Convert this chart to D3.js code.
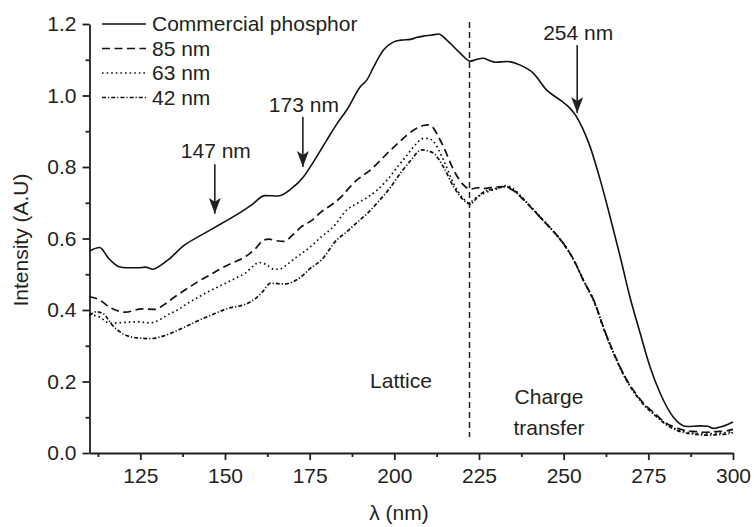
<!DOCTYPE html>
<html>
<head>
<meta charset="utf-8">
<script src="https://cdn.jsdelivr.net/npm/d3@7"></script>
<style>
  body { margin: 0; background: #fff; }
  text { font-family: "Liberation Sans", Arial, sans-serif; fill: #231f20; }
</style>
</head>
<body>
<div id="chart"></div>
<script>
// spectra, [wavelength nm, intensity]
var commercial = [[110,0.565],[113,0.575],[115.6,0.545],[118.5,0.522],[121,0.518],[124.4,0.518],[126.5,0.52],
  [128.8,0.514],[131,0.525],[133.2,0.54],[138.1,0.582],[143.1,0.61],[149,0.642],[154.9,0.675],[158,0.695],
  [161.8,0.72],[165.8,0.719],[169.7,0.74],[173.2,0.773],[176.5,0.82],[180.1,0.876],[183,0.92],[186,0.96],
  [190,1.025],[192,1.045],[193.9,1.08],[196.8,1.127],[199.8,1.15],[202,1.155],[204.7,1.157],[206.5,1.162],
  [208.6,1.166],[211.1,1.169],[213.1,1.172],[215.5,1.155],[219.5,1.118],[222.4,1.096],[224,1.1],[226.3,1.104],
  [228,1.098],[229.8,1.093],[233.2,1.095],[237.2,1.085],[241.1,1.062],[245,1.015],[249,0.987],[251.9,0.964],
  [253.5,0.945],[255.5,0.91],[257.8,0.857],[260.8,0.764],[263.7,0.661],[266.7,0.549],[269.6,0.435],
  [272.6,0.335],[275.5,0.241],[278.5,0.167],[282.4,0.1],[286.4,0.074],[290.3,0.076],[292.5,0.075],
  [294.2,0.069],[297,0.075],[300,0.087]];

var nm85 = [[110,0.437],[112.6,0.43],[116.5,0.405],[120.6,0.394],[125.4,0.403],[129.4,0.402],[132,0.415],
  [135.2,0.437],[138.5,0.458],[142,0.479],[145.5,0.498],[149,0.517],[152.5,0.533],[156,0.549],[159,0.572],
  [161.5,0.596],[163,0.598],[165,0.594],[167.5,0.592],[170,0.61],[172.6,0.633],[175.5,0.65],[178.5,0.675],
  [182,0.698],[184.4,0.717],[187,0.745],[189,0.764],[191,0.778],[193,0.792],[196,0.82],[199,0.848],
  [201.5,0.87],[203.7,0.889],[206,0.905],[208.6,0.916],[210,0.918],[211.6,0.908],[213,0.885],[214.5,0.857],
  [217.5,0.792],[220.4,0.75],[222.4,0.738],[224.5,0.742],[226.3,0.74],[229,0.743],[232,0.745],[235,0.735],
  [238,0.71],[241,0.68],[244,0.65],[247,0.62],[250,0.585],[253,0.54],[256,0.48],[259,0.425],[262,0.345],
  [265,0.275],[268,0.215],[271,0.17],[274,0.135],[277,0.11],[280,0.085],[283,0.072],[286,0.063],[289,0.06],
  [292,0.058],[295,0.06],[298,0.062],[300,0.066]];

var nm63 = [[110,0.387],[113,0.38],[116,0.363],[120,0.365],[124,0.367],[128,0.364],[130.5,0.372],[133,0.386],
  [136,0.4],[139,0.419],[142,0.435],[145,0.451],[148,0.465],[151,0.479],[154,0.493],[156,0.503],[158,0.52],
  [160,0.533],[162,0.528],[164.5,0.514],[166,0.514],[168,0.525],[170.7,0.545],[175,0.575],[178.5,0.605],
  [182,0.633],[186,0.68],[189,0.698],[192,0.715],[195,0.736],[198,0.765],[201,0.801],[203.5,0.83],[206,0.86],
  [208.6,0.88],[210,0.88],[211.6,0.871],[214.5,0.82],[217.5,0.754],[220.4,0.712],[222,0.7],[224,0.713],
  [226.3,0.726],[230,0.738],[233,0.748],[235,0.74],[238,0.712],[241,0.682],[244,0.651],[247,0.62],
  [250,0.586],[253,0.54],[256,0.481],[259,0.424],[262,0.344],[265,0.274],[268,0.214],[271,0.168],
  [274,0.133],[277,0.107],[280,0.083],[283,0.068],[286,0.059],[289,0.055],[292,0.054],[295,0.055],
  [298,0.057],[300,0.061]];

var nm42 = [[110,0.385],[112,0.395],[114,0.39],[117,0.355],[120,0.333],[124,0.322],[128,0.32],[131,0.325],
  [134,0.335],[138,0.352],[143,0.374],[147,0.39],[151,0.405],[155,0.413],[157,0.42],[159,0.432],[161,0.45],
  [163.5,0.475],[167.5,0.473],[172.5,0.493],[175,0.515],[178.5,0.54],[183,0.596],[185.5,0.615],[189,0.645],
  [192,0.67],[195,0.7],[199,0.745],[202,0.785],[205,0.82],[208,0.848],[210,0.845],[212,0.835],[214.5,0.8],
  [217.5,0.745],[220.4,0.708],[222.4,0.696],[224.5,0.715],[226.5,0.731],[230,0.74],[233,0.745],[235,0.737],
  [238,0.711],[241,0.681],[244,0.65],[247,0.619],[250,0.584],[253,0.539],[256,0.479],[259,0.423],
  [262,0.343],[265,0.273],[268,0.213],[271,0.167],[274,0.131],[277,0.105],[280,0.081],[283,0.065],
  [286,0.056],[289,0.052],[292,0.05],[295,0.051],[298,0.053],[300,0.057]];

var seriesNames = ["Commercial phosphor", "85 nm", "63 nm", "42 nm"];
var seriesDash = [null, "8,4.5", "1.6,3", "4,2,1.2,2"];

var xTicks = [125, 150, 175, 200, 225, 250, 275, 300];
var xMinor = [112.5, 137.5, 162.5, 187.5, 212.5, 237.5, 262.5, 287.5];
var yTicks = [0, 0.2, 0.4, 0.6, 0.8, 1.0, 1.2];
var yMinor = [0.1, 0.3, 0.5, 0.7, 0.9, 1.1];

// arrow annotations: label baseline, arrow top, arrow tip (intensity units)
var peaks = [
  {label: "147 nm", wl: 147, ty: 0.826, top: 0.808, tip: 0.669},
  {label: "173 nm", wl: 173, ty: 0.953, top: 0.94, tip: 0.80},
  {label: "254 nm", wl: 254, ty: 1.155, top: 1.141, tip: 0.951}
];
var divider = 222.2;

var width = 754, height = 527;
var margin = {left: 89.5, right: 21, top: 24, bottom: 74};

var x = d3.scaleLinear().domain([110, 300]).range([margin.left, width - margin.right]);
var y = d3.scaleLinear().domain([0, 1.2]).range([height - margin.bottom, margin.top]);

var svg = d3.select("#chart").append("svg")
    .attr("width", width)
    .attr("height", height);

var ink = "#231f20";
var fs = 21;

// axes
svg.append("g").attr("transform", "translate(0," + y(0) + ")")
    .call(d3.axisBottom(x).tickValues(xTicks).tickSize(7).tickSizeOuter(0).tickPadding(8));
svg.append("g").attr("transform", "translate(0," + y(0) + ")")
    .call(d3.axisBottom(x).tickValues(xMinor).tickSize(4).tickFormat(""))
    .select(".domain").remove();
svg.append("g").attr("transform", "translate(" + x(110) + ",0)")
    .call(d3.axisLeft(y).tickValues(yTicks).tickSize(7).tickSizeOuter(0).tickPadding(6).tickFormat(d3.format(".1f")));
svg.append("g").attr("transform", "translate(" + x(110) + ",0)")
    .call(d3.axisLeft(y).tickValues(yMinor).tickSize(4).tickFormat(""))
    .select(".domain").remove();

svg.selectAll(".domain, .tick line").attr("stroke", ink).attr("stroke-width", 1.8);
svg.selectAll(".tick text").attr("font-size", fs).attr("fill", ink)
    .style("font-family", "'Liberation Sans', Arial, sans-serif");

svg.append("text")
    .attr("x", 399)
    .attr("y", 520)
    .attr("text-anchor", "middle")
    .attr("font-size", fs)
    .text("λ (nm)");

svg.append("text")
    .attr("transform", "translate(28," + 240 + ") rotate(-90)")
    .attr("text-anchor", "middle")
    .attr("font-size", fs)
    .text("Intensity (A.U)");

// divider between regions
svg.append("line")
    .attr("x1", x(divider)).attr("x2", x(divider))
    .attr("y1", 22).attr("y2", 437)
    .attr("stroke", ink).attr("stroke-width", 1.5)
    .attr("stroke-dasharray", "6,4");

svg.append("text").attr("x", 401).attr("y", 388).attr("text-anchor", "middle")
    .attr("font-size", fs).text("Lattice");
svg.append("text").attr("x", 549).attr("y", 404).attr("text-anchor", "middle")
    .attr("font-size", fs).text("Charge");
svg.append("text").attr("x", 549).attr("y", 435).attr("text-anchor", "middle")
    .attr("font-size", fs).text("transfer");

// curves
var line = d3.line()
    .x(function(d) { return x(d[0]); })
    .y(function(d) { return y(d[1]); })
    .curve(d3.curveMonotoneX);

var all = [commercial, nm85, nm63, nm42];
svg.selectAll("path.spec")
    .data(all)
    .enter().append("path")
    .attr("class", "spec")
    .attr("d", line)
    .attr("fill", "none")
    .attr("stroke", "#111")
    .attr("stroke-width", function(d, i) { return i == 0 ? 1.6 : 1.7; })
    .attr("stroke-dasharray", function(d, i) { return seriesDash[i]; });

// arrows pointing at peaks
svg.append("defs").append("marker")
    .attr("id", "head")
    .attr("viewBox", "0 0 12 16")
    .attr("refX", 6).attr("refY", 16)
    .attr("markerWidth", 12).attr("markerHeight", 16)
    .attr("markerUnits", "userSpaceOnUse")
    .attr("orient", "0")
    .append("path")
    .attr("d", "M0,0 L6,4 L12,0 L6,16 Z")
    .attr("fill", ink);

peaks.forEach(function(p) {
    svg.append("line")
        .attr("x1", x(p.wl)).attr("x2", x(p.wl))
        .attr("y1", y(p.top)).attr("y2", y(p.tip))
        .attr("stroke", ink).attr("stroke-width", 1.6)
        .attr("marker-end", "url(#head)");
    svg.append("text")
        .attr("x", x(p.wl) + 1)
        .attr("y", y(p.ty))
        .attr("text-anchor", "middle")
        .attr("font-size", fs)
        .text(p.label);
});

// legend
var leg = svg.append("g");
seriesNames.forEach(function(name, i) {
    var ly = 24 + i * 24.5;
    leg.append("line")
        .attr("x1", 102).attr("x2", 146)
        .attr("y1", ly).attr("y2", ly)
        .attr("stroke", "#111").attr("stroke-width", 1.6)
        .attr("stroke-dasharray", seriesDash[i]);
    leg.append("text")
        .attr("x", 152).attr("y", ly + 7)
        .attr("font-size", fs)
        .text(name);
});
</script>
</body>
</html>
